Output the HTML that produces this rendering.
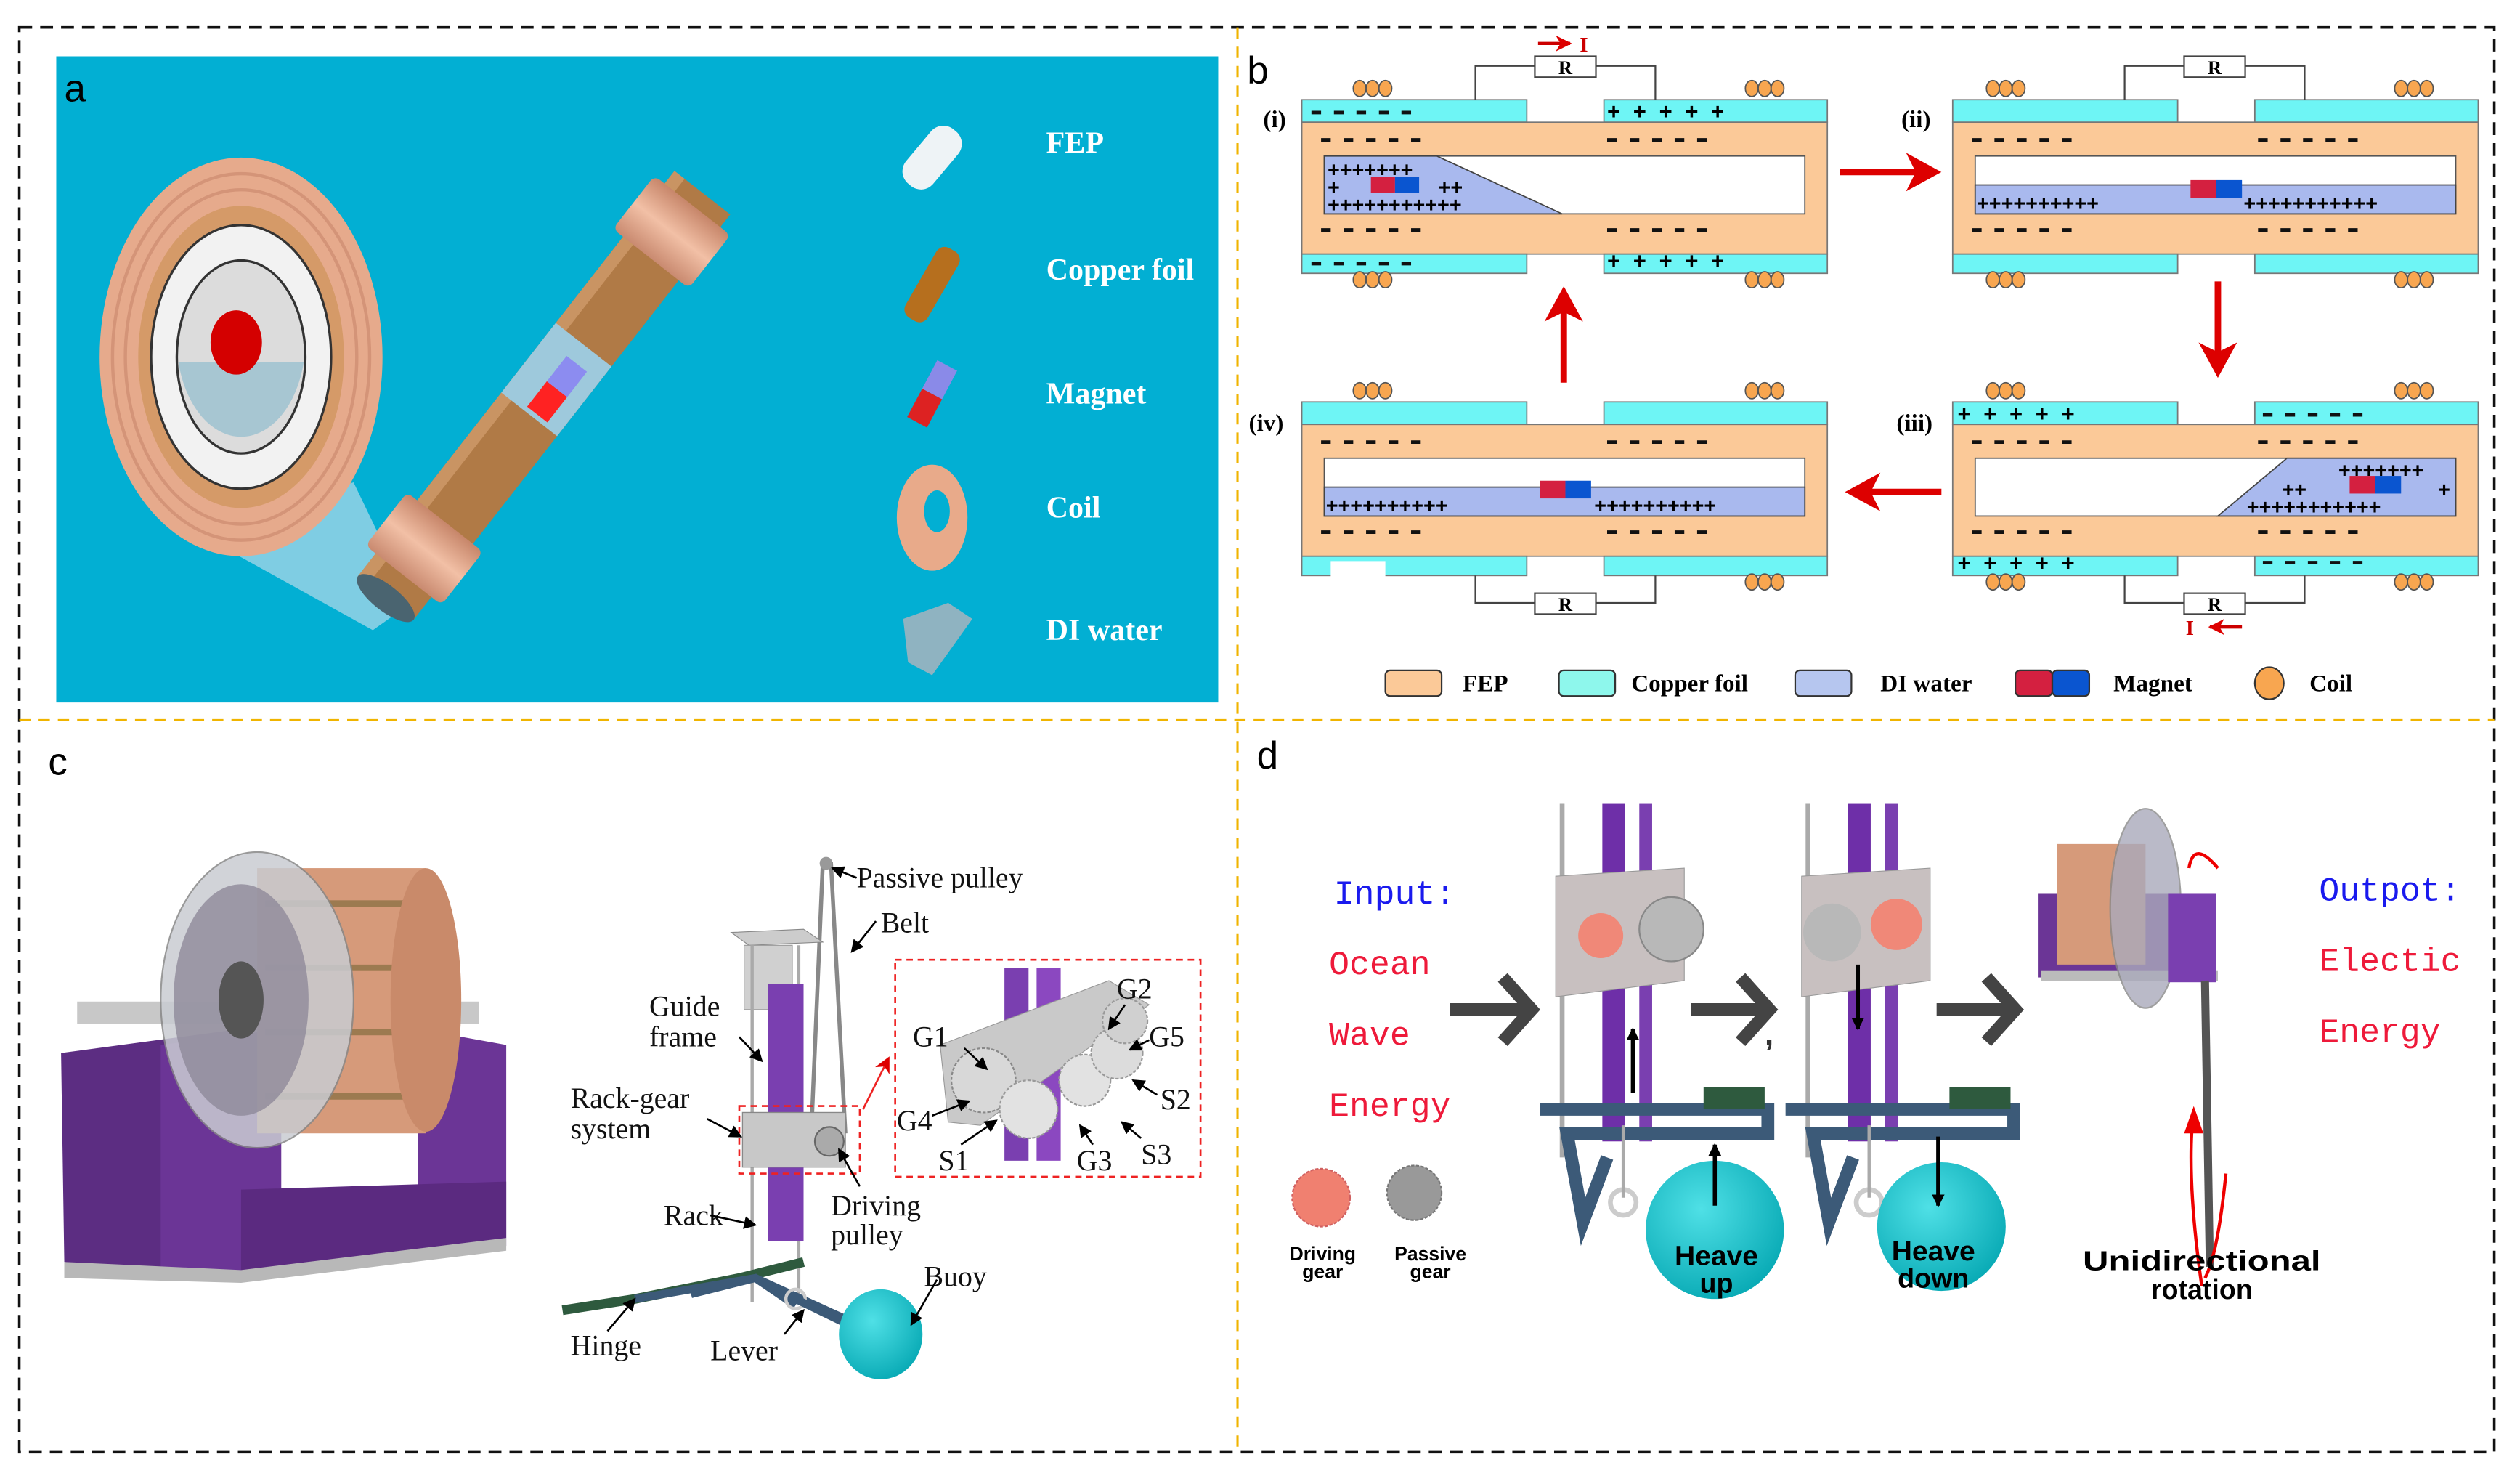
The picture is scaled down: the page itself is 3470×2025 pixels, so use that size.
<!DOCTYPE html>
<html><head><meta charset="utf-8"><style>
html,body{margin:0;padding:0;background:#fff}
svg{display:block}
.t{font-family:"Liberation Serif",serif}
.s{font-family:"Liberation Sans",sans-serif}
.m{font-family:"Liberation Mono",monospace}
</style></head><body>
<svg width="3470" height="2025" viewBox="0 0 1568 915" xmlns="http://www.w3.org/2000/svg">
<defs>
<marker id="ar" markerWidth="8" markerHeight="8" refX="7" refY="4" orient="auto" markerUnits="userSpaceOnUse"><path d="M0,0 L8,4 L0,8 z" fill="#000"/></marker>
<marker id="rr" markerWidth="10" markerHeight="10" refX="9" refY="5" orient="auto" markerUnits="userSpaceOnUse"><path d="M0,0 L10,5 L0,10 L3,5 z" fill="#d00"/></marker>
<radialGradient id="ball" cx="0.4" cy="0.35" r="0.7"><stop offset="0" stop-color="#4fe0e6"/><stop offset="1" stop-color="#07a9b4"/></radialGradient>
<linearGradient id="cu" x1="0" y1="0" x2="1" y2="0"><stop offset="0" stop-color="#c98a70"/><stop offset="0.5" stop-color="#f2c0a6"/><stop offset="1" stop-color="#c7866a"/></linearGradient>
</defs>

<rect x="12" y="17" width="1540" height="886" fill="none" stroke="#111" stroke-width="1.6" stroke-dasharray="8,5"/>
<line x1="770" y1="17" x2="770" y2="903" stroke="#f0b400" stroke-width="1.4" stroke-dasharray="7,5"/>
<line x1="12" y1="448" x2="1552" y2="448" stroke="#f0b400" stroke-width="1.4" stroke-dasharray="7,5"/>

<!-- PANEL A -->
<rect x="35" y="35" width="723" height="402" fill="#02afd3"/>
<text x="40" y="63" class="s" font-size="24">a</text>
<polygon points="120,330 232,392 256,375 220,300" fill="#7fcde3"/>
<ellipse cx="150" cy="222" rx="88" ry="124" fill="#e6aa8c"/>
<ellipse cx="150" cy="222" rx="80" ry="114" fill="none" stroke="#d49478" stroke-width="2"/>
<ellipse cx="150" cy="222" rx="72" ry="104" fill="none" stroke="#d49478" stroke-width="2"/>
<ellipse cx="150" cy="222" rx="64" ry="94" fill="#d59a68"/>
<ellipse cx="150" cy="222" rx="56" ry="82" fill="#f2f2f2" stroke="#333" stroke-width="1.5"/>
<ellipse cx="150" cy="222" rx="40" ry="60" fill="#dcdcdc" stroke="#333" stroke-width="1.5"/>
<path d="M111,225 A40,60 0 0 0 189,225 Z" fill="#a7c6d2"/>
<ellipse cx="147" cy="213" rx="16" ry="20" fill="#d40000"/>
<g transform="translate(240,372) rotate(-52)">
<rect x="0" y="-22" width="320" height="44" fill="#b07a46"/>
<rect x="0" y="-22" width="320" height="8" fill="#c99463"/>
<rect x="145" y="-22" width="55" height="44" fill="#9ec9dc"/>
<rect x="148" y="-4" width="20" height="16" fill="#f22"/><rect x="168" y="-4" width="20" height="16" fill="#8c8cf0"/>
<rect x="18" y="-30" width="42" height="60" fill="url(#cu)" rx="4"/>
<rect x="268" y="-30" width="42" height="60" fill="url(#cu)" rx="4"/>
<ellipse cx="0" cy="0" rx="8" ry="22" fill="#4a6470"/>
</g>
<g transform="translate(580,98) rotate(-50)"><rect x="-22" y="-11" width="44" height="22" rx="10" fill="#eef3f6"/></g>
<text x="651" y="95" class="t" font-size="19" font-weight="bold" fill="#fff">FEP</text>
<g transform="translate(580,177) rotate(-60)"><rect x="-25" y="-8" width="50" height="16" rx="6" fill="#b66f1e"/></g>
<text x="651" y="174" class="t" font-size="19" font-weight="bold" fill="#fff">Copper foil</text>
<g transform="translate(580,245) rotate(-62)"><rect x="-20" y="-7" width="20" height="14" fill="#d22"/><rect x="0" y="-7" width="20" height="14" fill="#8a8ae8"/></g>
<text x="651" y="251" class="t" font-size="19" font-weight="bold" fill="#fff">Magnet</text>
<ellipse cx="580" cy="322" rx="22" ry="33" fill="#e8aa8a"/><ellipse cx="583" cy="318" rx="8" ry="13" fill="#02afd3"/>
<text x="651" y="322" class="t" font-size="19" font-weight="bold" fill="#fff">Coil</text>
<polygon points="562,385 590,375 605,385 580,420 565,412" fill="#8fb3c1"/>
<text x="651" y="398" class="t" font-size="19" font-weight="bold" fill="#fff">DI water</text>

<!-- PANEL B -->
<text x="776" y="52" class="s" font-size="24">b</text>
<g id="cell1">
<rect x="810" y="62" width="140" height="14" fill="#6ef5f5" stroke="#777" stroke-width="0.8"/>
<rect x="998" y="62" width="139" height="14" fill="#6ef5f5" stroke="#777" stroke-width="0.8"/>
<rect x="810" y="76" width="327" height="82" fill="#fbc998" stroke="#777" stroke-width="0.8"/>
<rect x="810" y="158" width="140" height="12" fill="#6ef5f5" stroke="#777" stroke-width="0.8"/>
<rect x="998" y="158" width="139" height="12" fill="#6ef5f5" stroke="#777" stroke-width="0.8"/>
<rect x="824" y="97" width="299" height="36" fill="#fff" stroke="#555" stroke-width="0.8"/>
<g stroke="#111" stroke-width="2.2" stroke-dasharray="6,8">
<path d="M822,87h64 M1000,87h64 M822,143h64 M1000,143h64"/>
</g>
</g>
<use href="#cell1" x="405" y="0"/>
<use href="#cell1" x="0" y="188"/>
<use href="#cell1" x="405" y="188"/>
<polygon points="824,97 894,97 972,133 824,133" fill="#a9b9ee" stroke="#444" stroke-width="0.8"/>
<text x="826" y="110" class="s" font-size="13" font-weight="bold">+++++++</text>
<text x="826" y="121" class="s" font-size="13" font-weight="bold">+</text><text x="895" y="121" class="s" font-size="13" font-weight="bold">++</text>
<text x="826" y="132" class="s" font-size="13" font-weight="bold">+++++++++++</text>
<rect x="853" y="110" width="15" height="10" fill="#d42040"/><rect x="868" y="110" width="15" height="10" fill="#0a55d0"/>
<g stroke="#111" stroke-width="2.2" stroke-dasharray="6,8">
<path d="M816,70h64 M816,164h64 M1408,258h64 M1408,350h64"/>
</g>
<text x="1000" y="74" class="s" font-size="14" font-weight="bold" letter-spacing="8">+++++</text>
<text x="1000" y="167" class="s" font-size="14" font-weight="bold" letter-spacing="8">+++++</text>
<text x="786" y="79" class="t" font-size="15" font-weight="bold">(i)</text>
<rect x="1229" y="115" width="299" height="18" fill="#a9b9ee" stroke="#444" stroke-width="0.8"/>
<text x="1230" y="131" class="s" font-size="13" font-weight="bold">++++++++++</text>
<text x="1396" y="131" class="s" font-size="13" font-weight="bold">+++++++++++</text>
<rect x="1363" y="112" width="16" height="11" fill="#d42040"/><rect x="1379" y="112" width="16" height="11" fill="#0a55d0"/>
<text x="1183" y="79" class="t" font-size="15" font-weight="bold">(ii)</text>
<polygon points="1380,321 1423,285 1528,285 1528,321" fill="#a9b9ee" stroke="#444" stroke-width="0.8"/>
<text x="1455" y="297" class="s" font-size="13" font-weight="bold">+++++++</text>
<text x="1420" y="309" class="s" font-size="13" font-weight="bold">++</text><text x="1517" y="309" class="s" font-size="13" font-weight="bold">+</text>
<text x="1398" y="320" class="s" font-size="13" font-weight="bold">+++++++++++</text>
<rect x="1462" y="296" width="16" height="11" fill="#d42040"/><rect x="1478" y="296" width="16" height="11" fill="#0a55d0"/>
<text x="1218" y="262" class="s" font-size="14" font-weight="bold" letter-spacing="8">+++++</text>
<text x="1218" y="355" class="s" font-size="14" font-weight="bold" letter-spacing="8">+++++</text>
<text x="1180" y="268" class="t" font-size="15" font-weight="bold">(iii)</text>
<rect x="824" y="303" width="299" height="18" fill="#a9b9ee" stroke="#444" stroke-width="0.8"/>
<text x="825" y="319" class="s" font-size="13" font-weight="bold">++++++++++</text>
<text x="992" y="319" class="s" font-size="13" font-weight="bold">++++++++++</text>
<rect x="958" y="299" width="16" height="11" fill="#d42040"/><rect x="974" y="299" width="16" height="11" fill="#0a55d0"/>
<text x="777" y="268" class="t" font-size="15" font-weight="bold">(iv)</text>
<rect x="828" y="349" width="34" height="18" fill="#fff"/>
<g fill="none" stroke="#444" stroke-width="1">
<path d="M918,62 V41 H955 M993,41 H1030 V62"/>
<path d="M1322,62 V41 H1359 M1397,41 H1434 V62"/>
<path d="M918,358 V375 H955 M993,375 H1030 V358"/>
<path d="M1322,358 V375 H1359 M1397,375 H1434 V358"/>
</g>
<g fill="#fff" stroke="#444" stroke-width="1">
<rect x="955" y="35" width="38" height="13"/><rect x="1359" y="35" width="38" height="13"/>
<rect x="955" y="369" width="38" height="13"/><rect x="1359" y="369" width="38" height="13"/>
</g>
<g class="t" font-size="12" font-weight="bold" text-anchor="middle">
<text x="974" y="46">R</text><text x="1378" y="46">R</text><text x="974" y="380">R</text><text x="1378" y="380">R</text>
</g>
<line x1="957" y1="27" x2="977" y2="27" stroke="#c00" stroke-width="2" marker-end="url(#rr)"/>
<text x="983" y="32" class="t" font-size="13" fill="#c00" font-weight="bold">I</text>
<text x="1360" y="395" class="t" font-size="13" fill="#c00" font-weight="bold">I</text>
<line x1="1395" y1="390" x2="1375" y2="390" stroke="#c00" stroke-width="2" marker-end="url(#rr)"/>
<g stroke="#555" stroke-width="0.8" fill="#f8a650">
<ellipse cx="846" cy="55" rx="4" ry="5"/><ellipse cx="854" cy="55" rx="4" ry="5"/><ellipse cx="862" cy="55" rx="4" ry="5"/>
<ellipse cx="1090" cy="55" rx="4" ry="5"/><ellipse cx="1098" cy="55" rx="4" ry="5"/><ellipse cx="1106" cy="55" rx="4" ry="5"/>
<ellipse cx="846" cy="174" rx="4" ry="5"/><ellipse cx="854" cy="174" rx="4" ry="5"/><ellipse cx="862" cy="174" rx="4" ry="5"/>
<ellipse cx="1090" cy="174" rx="4" ry="5"/><ellipse cx="1098" cy="174" rx="4" ry="5"/><ellipse cx="1106" cy="174" rx="4" ry="5"/>
<ellipse cx="1240" cy="55" rx="4" ry="5"/><ellipse cx="1248" cy="55" rx="4" ry="5"/><ellipse cx="1256" cy="55" rx="4" ry="5"/>
<ellipse cx="1494" cy="55" rx="4" ry="5"/><ellipse cx="1502" cy="55" rx="4" ry="5"/><ellipse cx="1510" cy="55" rx="4" ry="5"/>
<ellipse cx="1240" cy="174" rx="4" ry="5"/><ellipse cx="1248" cy="174" rx="4" ry="5"/><ellipse cx="1256" cy="174" rx="4" ry="5"/>
<ellipse cx="1494" cy="174" rx="4" ry="5"/><ellipse cx="1502" cy="174" rx="4" ry="5"/><ellipse cx="1510" cy="174" rx="4" ry="5"/>
<ellipse cx="846" cy="243" rx="4" ry="5"/><ellipse cx="854" cy="243" rx="4" ry="5"/><ellipse cx="862" cy="243" rx="4" ry="5"/>
<ellipse cx="1090" cy="243" rx="4" ry="5"/><ellipse cx="1098" cy="243" rx="4" ry="5"/><ellipse cx="1106" cy="243" rx="4" ry="5"/>
<ellipse cx="1090" cy="362" rx="4" ry="5"/><ellipse cx="1098" cy="362" rx="4" ry="5"/><ellipse cx="1106" cy="362" rx="4" ry="5"/>
<ellipse cx="1240" cy="243" rx="4" ry="5"/><ellipse cx="1248" cy="243" rx="4" ry="5"/><ellipse cx="1256" cy="243" rx="4" ry="5"/>
<ellipse cx="1494" cy="243" rx="4" ry="5"/><ellipse cx="1502" cy="243" rx="4" ry="5"/><ellipse cx="1510" cy="243" rx="4" ry="5"/>
<ellipse cx="1240" cy="362" rx="4" ry="5"/><ellipse cx="1248" cy="362" rx="4" ry="5"/><ellipse cx="1256" cy="362" rx="4" ry="5"/>
<ellipse cx="1494" cy="362" rx="4" ry="5"/><ellipse cx="1502" cy="362" rx="4" ry="5"/><ellipse cx="1510" cy="362" rx="4" ry="5"/>
</g>
<g stroke="#d00" stroke-width="4" fill="none">
<line x1="1145" y1="107" x2="1195" y2="107"/><line x1="1380" y1="175" x2="1380" y2="222"/>
<line x1="1208" y1="306" x2="1160" y2="306"/><line x1="973" y1="238" x2="973" y2="190"/>
</g>
<g fill="#d00">
<path d="M1208,107 L1186,95 L1192,107 L1186,119z"/><path d="M1380,235 L1368,213 L1380,219 L1392,213z"/>
<path d="M1148,306 L1170,294 L1164,306 L1170,318z"/><path d="M973,178 L961,200 L973,194 L985,200z"/>
</g>
<rect x="862" y="417" width="35" height="16" rx="3" fill="#fbc998" stroke="#333"/>
<text x="910" y="430" class="t" font-size="15" font-weight="bold">FEP</text>
<rect x="970" y="417" width="35" height="16" rx="3" fill="#8ef7ec" stroke="#333"/>
<text x="1015" y="430" class="t" font-size="15" font-weight="bold">Copper foil</text>
<rect x="1117" y="417" width="35" height="16" rx="3" fill="#b6c6ef" stroke="#333"/>
<text x="1170" y="430" class="t" font-size="15" font-weight="bold">DI water</text>
<rect x="1254" y="417" width="23" height="16" rx="3" fill="#d42040" stroke="#333"/><rect x="1277" y="417" width="23" height="16" rx="3" fill="#0a55d0" stroke="#333"/>
<text x="1315" y="430" class="t" font-size="15" font-weight="bold">Magnet</text>
<ellipse cx="1412" cy="425" rx="9" ry="10" fill="#f8a650" stroke="#333"/>
<text x="1437" y="430" class="t" font-size="15" font-weight="bold">Coil</text>

<!-- PANEL C -->
<text x="30" y="482" class="s" font-size="24">c</text>
<polygon points="38,655 150,640 150,795 40,785" fill="#5c2d82"/>
<polygon points="100,650 175,640 175,790 100,790" fill="#6b3596"/>
<polygon points="260,640 315,650 315,770 260,775" fill="#6b3596"/>
<polygon points="150,740 315,735 315,775 150,792" fill="#5b2a80"/>
<polygon points="40,785 150,790 315,770 315,778 150,798 40,795" fill="#b8b8b8"/>
<rect x="48" y="623" width="250" height="14" fill="#c8c8c8"/>
<rect x="160" y="540" width="105" height="165" fill="#d69a7a"/>
<rect x="165" y="560" width="100" height="4" fill="#9c7a50"/><rect x="165" y="600" width="100" height="4" fill="#9c7a50"/><rect x="165" y="640" width="100" height="4" fill="#9c7a50"/><rect x="165" y="680" width="100" height="4" fill="#9c7a50"/>
<ellipse cx="265" cy="622" rx="22" ry="82" fill="#c98a6a"/>
<ellipse cx="160" cy="622" rx="60" ry="92" fill="#c9ccd2" opacity="0.85" stroke="#888"/>
<ellipse cx="150" cy="622" rx="42" ry="72" fill="#8e8a9a" opacity="0.8"/>
<ellipse cx="150" cy="622" rx="14" ry="24" fill="#555"/>
<path d="M512,536 L505,700 M517,536 L526,705" stroke="#888" stroke-width="2.5" fill="none"/>
<circle cx="514" cy="537" r="4" fill="#999"/>
<polygon points="455,580 500,578 512,586 466,588" fill="#ccc" stroke="#888" stroke-width="0.5"/>
<rect x="463" y="588" width="30" height="40" fill="#d0d0d0" stroke="#999" stroke-width="0.5"/>
<line x1="468" y1="588" x2="468" y2="810" stroke="#aaa" stroke-width="2"/>
<line x1="497" y1="588" x2="497" y2="810" stroke="#aaa" stroke-width="2"/>
<rect x="478" y="612" width="22" height="160" fill="#7a3fb0"/>
<rect x="462" y="692" width="64" height="34" fill="#c8c8c8" stroke="#888" stroke-width="0.6"/>
<circle cx="516" cy="710" r="9" fill="#aaa" stroke="#666"/>
<rect x="460" y="688" width="75" height="42" fill="none" stroke="#e22" stroke-width="1.2" stroke-dasharray="4,3"/>
<line x1="537" y1="690" x2="553" y2="658" stroke="#e22" stroke-width="1.2" marker-end="url(#rr)"/>
<path d="M350,815 L395,808 L460,795 L500,785" stroke="#2e5a3e" stroke-width="6" fill="none"/>
<path d="M395,808 L470,795 L525,820 M430,805 L470,795 L495,812" stroke="#3c5a78" stroke-width="5" fill="none"/>
<circle cx="495" cy="808" r="6" fill="none" stroke="#ccc" stroke-width="2"/>
<path d="M495,808 L530,825" stroke="#3c5a78" stroke-width="5"/>
<ellipse cx="548" cy="830" rx="26" ry="28" fill="url(#ball)"/>
<rect x="557" y="597" width="190" height="135" fill="none" stroke="#e22" stroke-width="1.2" stroke-dasharray="4,3"/>
<rect x="625" y="602" width="15" height="120" fill="#7a3fb0"/><rect x="645" y="602" width="15" height="120" fill="#8b48c0"/>
<polygon points="585,650 690,610 715,625 610,700 590,698" fill="#c9c9c9" stroke="#999" stroke-width="0.5"/>
<circle cx="612" cy="672" r="20" fill="#d8d8d8" stroke="#888" stroke-dasharray="2,1"/>
<circle cx="640" cy="690" r="18" fill="#e2e2e2" stroke="#999" stroke-dasharray="2,1"/>
<circle cx="675" cy="672" r="16" fill="#e2e2e2" stroke="#999" stroke-dasharray="2,1"/>
<circle cx="695" cy="655" r="16" fill="#dcdcdc" stroke="#999" stroke-dasharray="2,1"/>
<circle cx="700" cy="635" r="14" fill="#d0d0d0" stroke="#999" stroke-dasharray="2,1"/>
<g class="t" font-size="18" fill="#111">
<text x="533" y="552">Passive pulley</text>
<text x="548" y="580">Belt</text>
<text x="404" y="632">Guide</text><text x="404" y="651">frame</text>
<text x="355" y="689">Rack-gear</text><text x="355" y="708">system</text>
<text x="413" y="762">Rack</text>
<text x="517" y="756">Driving</text><text x="517" y="774">pulley</text>
<text x="575" y="800">Buoy</text>
<text x="355" y="843">Hinge</text>
<text x="442" y="846">Lever</text>
<text x="568" y="651">G1</text><text x="695" y="621">G2</text><text x="715" y="651">G5</text>
<text x="558" y="703">G4</text><text x="722" y="690">S2</text><text x="584" y="728">S1</text>
<text x="670" y="728">G3</text><text x="710" y="724">S3</text>
</g>
<g stroke="#000" stroke-width="1.2" fill="none">
<line x1="533" y1="546" x2="518" y2="540" marker-end="url(#ar)"/>
<line x1="545" y1="573" x2="530" y2="592" marker-end="url(#ar)"/>
<line x1="460" y1="645" x2="474" y2="660" marker-end="url(#ar)"/>
<line x1="440" y1="696" x2="461" y2="707" marker-end="url(#ar)"/>
<line x1="442" y1="756" x2="470" y2="762" marker-end="url(#ar)"/>
<line x1="535" y1="738" x2="522" y2="715" marker-end="url(#ar)"/>
<line x1="583" y1="796" x2="567" y2="824" marker-end="url(#ar)"/>
<line x1="378" y1="828" x2="395" y2="808" marker-end="url(#ar)"/>
<line x1="488" y1="830" x2="500" y2="815" marker-end="url(#ar)"/>
<line x1="600" y1="652" x2="614" y2="665" marker-end="url(#ar)"/>
<line x1="700" y1="625" x2="690" y2="640" marker-end="url(#ar)"/>
<line x1="715" y1="647" x2="703" y2="653" marker-end="url(#ar)"/>
<line x1="580" y1="694" x2="603" y2="685" marker-end="url(#ar)"/>
<line x1="720" y1="681" x2="705" y2="672" marker-end="url(#ar)"/>
<line x1="598" y1="712" x2="620" y2="697" marker-end="url(#ar)"/>
<line x1="680" y1="712" x2="672" y2="700" marker-end="url(#ar)"/>
<line x1="710" y1="708" x2="698" y2="698" marker-end="url(#ar)"/>
</g>

<!-- PANEL D -->
<text x="782" y="478" class="s" font-size="24">d</text>
<g class="m" font-size="21">
<text x="830" y="562" fill="#1a1aee">Input:</text>
<text x="827" y="606" fill="#ee1a3a">Ocean</text>
<text x="827" y="650" fill="#ee1a3a">Wave</text>
<text x="827" y="694" fill="#ee1a3a">Energy</text>
<text x="1443" y="560" fill="#1a1aee">Outpot:</text>
<text x="1443" y="604" fill="#ee1a3a">Electic</text>
<text x="1443" y="648" fill="#ee1a3a">Energy</text>
</g>
<g fill="none" stroke="#444" stroke-width="8">
<path d="M902,628 H950 M935,608 L953,628 L935,648"/>
<path d="M1052,628 H1098 M1083,608 L1101,628 L1083,648"/>
<path d="M1205,628 H1251 M1236,608 L1254,628 L1236,648"/>
</g>
<text x="1098" y="650" class="s" font-size="20" font-weight="bold" fill="#333">,</text>
<g id="mech">
<line x1="972" y1="500" x2="972" y2="720" stroke="#aaa" stroke-width="3"/>
<rect x="997" y="500" width="14" height="210" fill="#6e2fa8"/><rect x="1020" y="500" width="8" height="210" fill="#7a3fb0"/>
<polygon points="968,545 1048,540 1048,610 968,620" fill="#c8c0c0" stroke="#999" stroke-width="0.5"/>
<path d="M958,690 H1100 L1100,705 H975 L985,760 L1000,720" stroke="#3c5a78" stroke-width="8" fill="none"/>
<rect x="1060" y="676" width="38" height="14" fill="#2e5a3e"/>
<circle cx="1010" cy="748" r="8" fill="none" stroke="#ccc" stroke-width="3"/>
<line x1="1010" y1="700" x2="1010" y2="745" stroke="#aaa" stroke-width="2"/>
</g>
<circle cx="996" cy="582" r="14" fill="#f08878"/><circle cx="1040" cy="578" r="20" fill="#b8b8b8" stroke="#888"/>
<use href="#mech" x="153" y="0"/>
<circle cx="1140" cy="580" r="18" fill="#b8b8b8"/><circle cx="1180" cy="575" r="16" fill="#f08878"/>
<circle cx="1067" cy="765" r="43" fill="url(#ball)"/>
<circle cx="1208" cy="763" r="40" fill="url(#ball)"/>
<line x1="1067" y1="750" x2="1067" y2="712" stroke="#000" stroke-width="2.5" marker-end="url(#ar)"/>
<line x1="1016" y1="680" x2="1016" y2="640" stroke="#000" stroke-width="2.5" marker-end="url(#ar)"/>
<line x1="1156" y1="600" x2="1156" y2="640" stroke="#000" stroke-width="2.5" marker-end="url(#ar)"/>
<line x1="1206" y1="707" x2="1206" y2="750" stroke="#000" stroke-width="2.5" marker-end="url(#ar)"/>
<g class="s" font-weight="bold" text-anchor="middle" fill="#000" font-size="17">
<text x="1068" y="787" textLength="52" lengthAdjust="spacingAndGlyphs">Heave</text><text x="1068" y="804">up</text>
<text x="1203" y="784" textLength="52" lengthAdjust="spacingAndGlyphs">Heave</text><text x="1203" y="801">down</text>
</g>
<circle cx="822" cy="745" r="18" fill="#f08070" stroke="#d06060" stroke-dasharray="2,1"/>
<circle cx="880" cy="742" r="17" fill="#999" stroke="#777" stroke-dasharray="2,1"/>
<g class="s" font-weight="bold" text-anchor="middle" font-size="12">
<text x="823" y="784">Driving</text><text x="823" y="795">gear</text>
<text x="890" y="784">Passive</text><text x="890" y="795">gear</text>
</g>
<rect x="1268" y="556" width="110" height="52" fill="#6b3596"/>
<rect x="1270" y="604" width="110" height="6" fill="#bbb"/>
<rect x="1280" y="525" width="55" height="75" fill="#d69a7a"/>
<ellipse cx="1335" cy="565" rx="22" ry="62" fill="#aab" opacity="0.8" stroke="#888"/>
<rect x="1349" y="556" width="30" height="55" fill="#7a3fb0"/>
<line x1="1372" y1="610" x2="1375" y2="788" stroke="#555" stroke-width="5"/>
<path d="M1370,800 Q1360,730 1365,690 M1385,730 Q1380,780 1372,795" stroke="#e00" stroke-width="2" fill="none"/>
<path d="M1365,688 L1359,705 L1371,705z" fill="#e00"/>
<path d="M1362,540 Q1365,522 1380,540" stroke="#e00" stroke-width="2" fill="none"/>
<g class="s" font-weight="bold" text-anchor="middle" font-size="17">
<text x="1370" y="790" textLength="148" lengthAdjust="spacingAndGlyphs">Unidirectional</text><text x="1370" y="808">rotation</text>
</g>
</svg>
</body></html>
